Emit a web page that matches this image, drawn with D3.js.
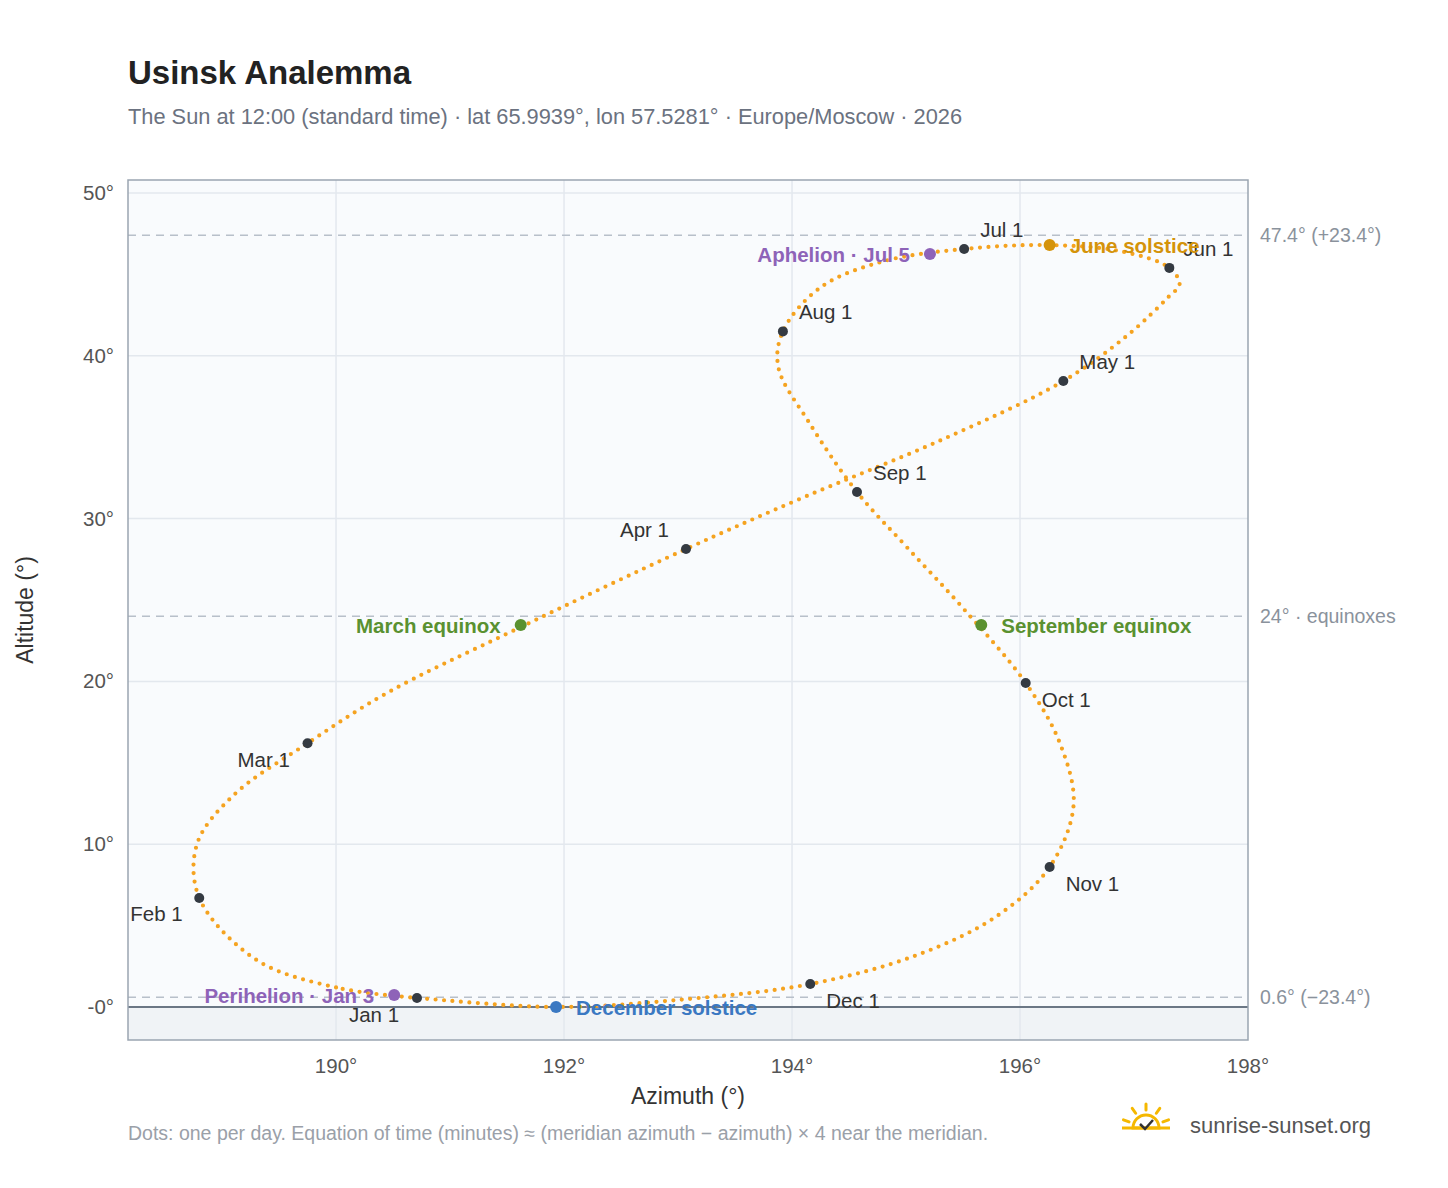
<!DOCTYPE html>
<html><head><meta charset="utf-8">
<script src="https://cdn.jsdelivr.net/npm/d3@7/dist/d3.min.js"></script>
<style>body{margin:0;background:#fff;font-family:"Liberation Sans",Arial,sans-serif}</style>
</head><body><svg id="c" width="1448" height="1188"></svg>
<script>
// Path samples (day label, azimuth°, altitude°)
const pathDays = ["Jan 1","Jan 10","Jan 20","Feb 1","Feb 10","Feb 20","Mar 1","Mar 10","Mar 20","Apr 1","Apr 10","Apr 20","May 1","May 10","May 20","May 25","Jun 1","Jun 10","Jun 21","Jul 1","Jul 10","Jul 20","Aug 1","Aug 10","Aug 20","Sep 1","Sep 10","Sep 20","Oct 1","Oct 10","Oct 20","Nov 1","Nov 10","Nov 20","Dec 1","Dec 10","Dec 21","Dec 31"];
const pathAz = [190.71,190.0,189.3,188.80,188.78,189.1,189.75,190.45,191.55,193.07,194.1,195.3,196.38,196.95,197.3,197.40,197.31,196.9,196.26,195.51,194.8,194.25,193.92,193.88,194.15,194.57,195.0,195.5,196.05,196.35,196.47,196.26,195.8,195.1,194.16,193.1,191.93,190.8];
const pathAlt = [0.55,1.2,2.9,6.7,10.0,13.0,16.2,19.3,23.1,28.13,31.3,34.8,38.45,41.3,43.6,44.4,45.4,46.4,46.8,46.56,45.8,44.2,41.5,39.3,35.9,31.63,28.3,24.5,19.9,16.2,12.4,8.6,5.6,3.2,1.41,0.5,0.0,0.5];
// Month-start markers
const monthLabels = ["Jan 1","Feb 1","Mar 1","Apr 1","May 1","Jun 1","Jul 1","Aug 1","Sep 1","Oct 1","Nov 1","Dec 1"];
const monthAz = [190.71,188.80,189.75,193.07,196.38,197.31,195.51,193.92,194.57,196.05,196.26,194.16];
const monthAlt = [0.55,6.7,16.2,28.13,38.45,45.4,46.56,41.5,31.63,19.9,8.6,1.41];
// Special events
const eventLabels = ["Perihelion · Jan 3","December solstice","March equinox","September equinox","June solstice","Aphelion · Jul 5"];
const eventAz = [190.51,191.93,191.62,195.66,196.26,195.21];
const eventAlt = [0.74,0.0,23.46,23.46,46.8,46.25];
const xTicks = [190,192,194,196,198];
const yTicks = [0,10,20,30,40,50];
const refLines = [47.4,24,0.6];
const refLabels = ["47.4° (+23.4°)","24° · equinoxes","0.6° (−23.4°)"];

const svg=d3.select("#c");
const L=128,R=1248,T=180,B=1040;
const x=d3.scaleLinear().domain([188.175,198]).range([L,R]);
const y=d3.scaleLinear().domain([0,50]).range([1007,193]);
svg.append("text").attr("x",128).attr("y",84).attr("font-size",33).attr("font-weight","bold").attr("fill","#222").text("Usinsk Analemma");
svg.append("text").attr("x",128).attr("y",124).attr("font-size",21.8).attr("fill","#6b7280").text("The Sun at 12:00 (standard time) · lat 65.9939°, lon 57.5281° · Europe/Moscow · 2026");
svg.append("rect").attr("x",L).attr("y",T).attr("width",R-L).attr("height",B-T).attr("fill","#f9fbfd");
svg.append("rect").attr("x",L).attr("y",y(0)).attr("width",R-L).attr("height",B-y(0)).attr("fill","#f0f3f6");
xTicks.forEach(t=>{ if(t<198) svg.append("line").attr("x1",x(t)).attr("x2",x(t)).attr("y1",T).attr("y2",B).attr("stroke","#e3e8ee").attr("stroke-width",1.5);
 svg.append("text").attr("x",x(t)).attr("y",1073).attr("text-anchor","middle").attr("font-size",20.5).attr("fill","#555").text(t+"°");});
yTicks.forEach(t=>{ if(t>0) svg.append("line").attr("x1",L).attr("x2",R).attr("y1",y(t)).attr("y2",y(t)).attr("stroke","#e3e8ee").attr("stroke-width",1.5);
 svg.append("text").attr("x",114).attr("y",y(t)+7).attr("text-anchor","end").attr("font-size",20.5).attr("fill","#555").text((t===0?"-0":t)+"°");});
svg.append("line").attr("x1",L).attr("x2",R).attr("y1",y(0)).attr("y2",y(0)).attr("stroke","#6b7785").attr("stroke-width",2);
refLines.forEach((r,i)=>{svg.append("line").attr("x1",L).attr("x2",R).attr("y1",y(r)).attr("y2",y(r)).attr("stroke","#b8c0ca").attr("stroke-width",1.5).attr("stroke-dasharray","8,6");
 svg.append("text").attr("x",1260).attr("y",y(r)+7).attr("font-size",19.5).attr("fill","#8a929c").text(refLabels[i]);});
svg.append("rect").attr("x",L).attr("y",T).attr("width",R-L).attr("height",B-T).attr("fill","none").attr("stroke","#9aa5b1").attr("stroke-width",1.5);
svg.append("text").attr("x",688).attr("y",1104).attr("text-anchor","middle").attr("font-size",23).attr("fill","#333").text("Azimuth (°)");
svg.append("text").attr("transform","translate(33,610) rotate(-90)").attr("text-anchor","middle").attr("font-size",23).attr("fill","#333").text("Altitude (°)");
const pts=pathAz.map((a,i)=>[x(a),y(pathAlt[i])]);
svg.append("path").attr("d",d3.line().curve(d3.curveCatmullRomClosed)(pts)).attr("fill","none").attr("stroke","#f5a320").attr("stroke-width",4.2).attr("stroke-linecap","round").attr("stroke-dasharray","0 8.5");
const mo=[[-68,24],[-69,23],[-70,24],[-66,-12],[16,-12],[14,-12],[16,-12],[16,-12],[16,-12],[16,24],[16,24],[16,24]];
monthAz.forEach((a,i)=>{svg.append("circle").attr("cx",x(a)).attr("cy",y(monthAlt[i])).attr("r",5).attr("fill","#343a42");
 const o=mo[i];
 svg.append("text").attr("x",x(a)+o[0]).attr("y",y(monthAlt[i])+o[1]).attr("font-size",20.5).attr("fill","#333").text(monthLabels[i]);});
const eCol=["#8e63b8","#3a78c2","#5a9130","#5a9130","#d4930a","#8e63b8"];
const eOff=[[-20,8,"end"],[20,8,"start"],[-20,8,"end"],[20,8,"start"],[20,8,"start"],[-20,8,"end"]];
eventAz.forEach((a,i)=>{svg.append("circle").attr("cx",x(a)).attr("cy",y(eventAlt[i])).attr("r",6).attr("fill",eCol[i]);
 svg.append("text").attr("x",x(a)+eOff[i][0]).attr("y",y(eventAlt[i])+eOff[i][1]).attr("text-anchor",eOff[i][2]).attr("font-size",20.5).attr("font-weight","bold").attr("fill",eCol[i]).text(eventLabels[i]);});
svg.append("text").attr("x",128).attr("y",1140).attr("font-size",19.5).attr("fill","#9aa0a8").text("Dots: one per day. Equation of time (minutes) ≈ (meridian azimuth − azimuth) × 4 near the meridian.");
const g=svg.append("g").attr("transform","translate(1146,1128)");
g.append("path").attr("d",d3.arc()({innerRadius:0,outerRadius:13,startAngle:-Math.PI/2,endAngle:Math.PI/2})).attr("fill","none").attr("stroke","#f5b800").attr("stroke-width",3);
[-70,-35,0,35,70].forEach(a=>{const r=a*Math.PI/180;g.append("line").attr("x1",18*Math.sin(r)).attr("y1",-18*Math.cos(r)).attr("x2",24*Math.sin(r)).attr("y2",-24*Math.cos(r)).attr("stroke","#f5b800").attr("stroke-width",3).attr("stroke-linecap","round");});
g.append("line").attr("x1",-24).attr("x2",24).attr("y1",0).attr("y2",0).attr("stroke","#f5b800").attr("stroke-width",3);
g.append("path").attr("d","M-6,-4 L-1,1 L7,-8").attr("fill","none").attr("stroke","#333").attr("stroke-width",2.5);
svg.append("text").attr("x",1190).attr("y",1133).attr("font-size",22).attr("fill","#555").text("sunrise-sunset.org");
</script></body></html>
